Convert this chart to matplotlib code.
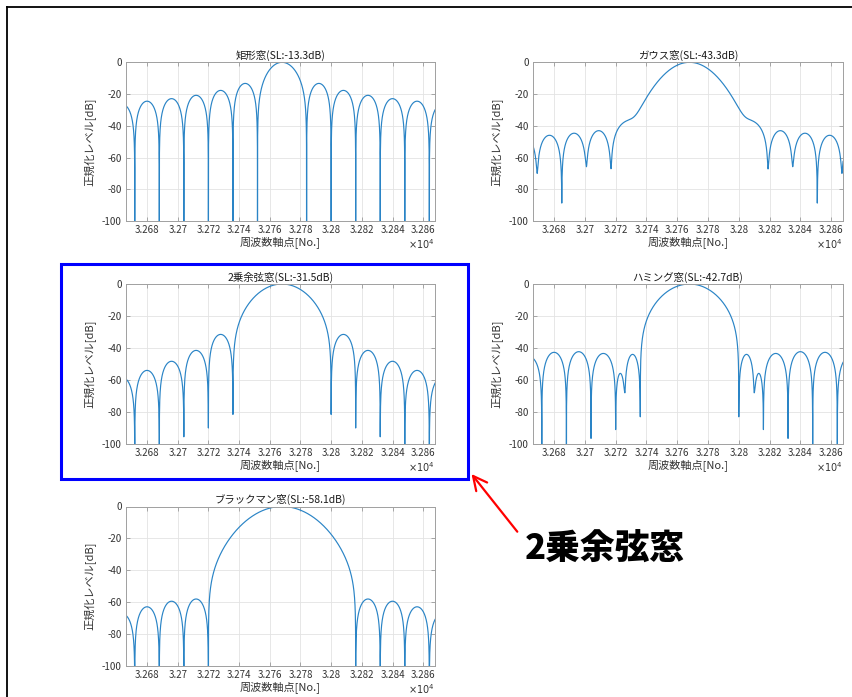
import numpy as np
import matplotlib
matplotlib.use("Agg")
import matplotlib.pyplot as plt
from matplotlib.patches import Rectangle, FancyArrowPatch
from matplotlib.lines import Line2D

plt.rcParams['font.family'] = ['Noto Sans CJK JP', 'DejaVu Sans']
plt.rcParams['axes.unicode_minus'] = False

# ---------------------------------------------------------------- data
CENTER_BIN = 32768
X_TICKS = [32680, 32700, 32720, 32740, 32760, 32780, 32800, 32820, 32840, 32860]
Y_TICKS = [0, -20, -40, -60, -80, -100]
X_LABEL = '周波数軸点[No.]'
Y_LABEL = '正規化レベル[dB]'

# Lobe boundaries (bins), lobe peak levels (dB) and level reached at each boundary (dB)
RECT_EDGES = [32656, 32672, 32688, 32704, 32720, 32736, 32752, 32784, 32800, 32816, 32832, 32848, 32864, 32880]
RECT_PEAKS = [-26.5, -24.5, -22.9, -20.8, -17.7, -13.3, 0, -13.3, -17.7, -20.8, -22.9, -24.5, -26.5]
RECT_FLOORS = [-130] * 14
RECT_MAIN_HW20 = 14.2

GAUSS_EDGES = [32653, 32669, 32685, 32701, 32717, 32819, 32835, 32851, 32867, 32883]
GAUSS_PEAKS = [-47.0, -46.0, -44.7, -43.1, 0, -43.1, -44.7, -46.0, -47.0]
GAUSS_FLOORS = [-60, -70, -88.7, -65.8, -67.2, -67.2, -65.8, -88.7, -70, -60]
GAUSS_MAIN_HW20 = 26.5
GAUSS_SHOULDER_STARTS = [32717, 32795]
GAUSS_SHOULDER_ENDS = [32741, 32819]
GAUSS_SHOULDER_PEAKS = [-37.0, -37.0]
GAUSS_SHOULDER_START_FLOORS = [-68, -130]
GAUSS_SHOULDER_END_FLOORS = [-130, -68]

HANN_EDGES = [32656, 32672, 32688, 32704, 32720, 32736, 32800, 32816, 32832, 32848, 32864, 32880]
HANN_PEAKS = [-58.5, -54.0, -48.3, -41.5, -31.5, 0, -31.5, -41.5, -48.3, -54.0, -58.5]
HANN_FLOORS = [-130, -130, -130, -95.5, -90, -81.5, -81.5, -90, -95.5, -130, -130, -130]
HANN_MAIN_HW20 = 26.3

HAMMING_EDGES = [32656, 32672, 32688, 32704, 32720, 32726, 32736, 32800, 32810, 32816, 32832, 32848, 32864, 32880]
HAMMING_PEAKS = [-45.5, -42.7, -42.3, -43.4, -56.0, -44.0, 0, -44.0, -56.0, -43.4, -42.3, -42.7, -45.5]
HAMMING_FLOORS = [-130, -130, -130, -96.5, -91, -68, -83, -83, -68, -91, -96.5, -130, -130, -130]
HAMMING_MAIN_HW20 = 26.8

BLACKMAN_EDGES = [32656, 32672, 32688, 32704, 32720, 32816, 32832, 32848, 32864, 32880]
BLACKMAN_PEAKS = [-67.5, -63.0, -59.5, -58.1, 0, -58.1, -59.5, -63.0, -67.5]
BLACKMAN_FLOORS = [-130] * 10
BLACKMAN_MAIN_HW20 = 34.0

TITLES = ['矩形窓(SL:-13.3dB)', 'ガウス窓(SL:-43.3dB)', '2乗余弦窓(SL:-31.5dB)',
          'ハミング窓(SL:-42.7dB)', 'ブラックマン窓(SL:-58.1dB)']
CALLOUT = '2乗余弦窓'

LINE_COLOR = '#2a84c6'
W, H = 853, 697


def sidelobe(xs, a, b, p, fa, fb):
    t = (xs - a) / (b - a)
    ea = 10 ** ((fa - p) / 10)
    eb = 10 ** ((fb - p) / 10)
    e = ea * (1 - t) + eb * t
    return p + 10 * np.log10(np.sin(np.pi * t) ** 2 + e)


def spectrum_db(x, edges, peaks, floors, hw20, main_nulls=True, extra=()):
    power = np.zeros_like(x)
    for i, p in enumerate(peaks):
        a, b = edges[i], edges[i + 1]
        fa, fb = floors[i], floors[i + 1]
        m = (x >= a) & (x < b)
        xs = x[m]
        if p == 0:
            mid = 0.5 * (a + b)
            if main_nulls:
                h = 0.5 * (b - a)
                u = (xs - mid) / h
                u20 = hw20 / h
                c = (20 + 20 * np.log10(np.cos(np.pi * u20 / 2))) / u20 ** 2
                ea = 10 ** ((fa - p + c) / 10)
                eb = 10 ** ((fb - p + c) / 10)
                w = (u + 1) / 2
                e = ea * (1 - w) + eb * w
                y = p + 10 * np.log10(np.cos(np.pi * u / 2) ** 2 + e) - c * u ** 2
            else:
                y = p - 20 * ((xs - mid) / hw20) ** 2
        else:
            y = sidelobe(xs, a, b, p, fa, fb)
        power[m] += 10 ** (y / 10)
    for a, b, p, fa, fb in extra:
        m = (x >= a) & (x < b)
        power[m] += 10 ** (sidelobe(x[m], a, b, p, fa, fb) / 10)
    return 10 * np.log10(power + 1e-30)


x = 32600 + np.arange(0, 300 * 20 + 1) / 20.0

curves = [
    spectrum_db(x, RECT_EDGES, RECT_PEAKS, RECT_FLOORS, RECT_MAIN_HW20),
    spectrum_db(x, GAUSS_EDGES, GAUSS_PEAKS, GAUSS_FLOORS, GAUSS_MAIN_HW20, main_nulls=False,
                extra=list(zip(GAUSS_SHOULDER_STARTS, GAUSS_SHOULDER_ENDS, GAUSS_SHOULDER_PEAKS,
                               GAUSS_SHOULDER_START_FLOORS, GAUSS_SHOULDER_END_FLOORS))),
    spectrum_db(x, HANN_EDGES, HANN_PEAKS, HANN_FLOORS, HANN_MAIN_HW20),
    spectrum_db(x, HAMMING_EDGES, HAMMING_PEAKS, HAMMING_FLOORS, HAMMING_MAIN_HW20),
    spectrum_db(x, BLACKMAN_EDGES, BLACKMAN_PEAKS, BLACKMAN_FLOORS, BLACKMAN_MAIN_HW20),
]

# ---------------------------------------------------------------- figure
fig = plt.figure(figsize=(W / 100, H / 100), dpi=100)
fig.patch.set_facecolor('white')


def fig_rect(left, top, right, bottom):
    return [left / W, 1 - bottom / H, (right - left) / W, (bottom - top) / H]


boxes = [
    (126, 62.3, 435, 221),
    (533, 62.3, 843, 221),
    (126, 284, 435, 444),
    (533, 284, 843, 444),
    (126, 506.5, 435, 665.7),
]

for (l, t, r, b), y, title in zip(boxes, curves, TITLES):
    ax = fig.add_axes(fig_rect(l, t, r, b))
    ax.plot(x, y, color=LINE_COLOR, lw=0.85)
    ax.set_xlim(32666.3, 32867.7)
    ax.set_ylim(-100, 0)
    ax.set_xticks(X_TICKS)
    ax.set_xticklabels([f'{v / 1e4:g}' for v in X_TICKS])
    ax.set_yticks(Y_TICKS)
    ax.grid(True, color='#e3e3e3', lw=0.6)
    ax.set_axisbelow(True)
    ax.tick_params(direction='in', length=3, width=0.6, color='#9a9a9a',
                   labelcolor='#333333', labelsize=7, top=True, right=True, pad=3)
    for s in ax.spines.values():
        s.set_color('#a0a0a0')
        s.set_linewidth(0.7)
    ax.set_title(title, fontsize=7.5, pad=2.5, color='#1a1a1a')
    ax.set_xlabel(X_LABEL, fontsize=8, color='#333333', labelpad=1)
    ax.set_ylabel(Y_LABEL, fontsize=8, color='#333333', labelpad=4)
    ax.text(1.0, -0.145, r'$\times10^{4}$', transform=ax.transAxes,
            ha='right', va='center', fontsize=7, color='#333333')

# page frame (top and left edges)
fig.add_artist(Line2D([7 / W, 1], [1 - 7 / H, 1 - 7 / H], color='black', lw=1.3,
                      transform=fig.transFigure))
fig.add_artist(Line2D([7 / W, 7 / W], [0, 1 - 7 / H], color='black', lw=1.3,
                      transform=fig.transFigure))

# highlight box around the raised-cosine panel
fig.add_artist(Rectangle((61.2 / W, 1 - 479 / H), (468 - 61.2) / W, (479 - 263.7) / H,
                         transform=fig.transFigure, fill=False, ec='#0000ff', lw=2.2))

# callout arrow and label
fig.add_artist(FancyArrowPatch((517.3 / W, 1 - 531.7 / H), (471.5 / W, 1 - 474 / H),
                               transform=fig.transFigure,
                               arrowstyle='->,head_length=0.5,head_width=0.25',
                               mutation_scale=20, color='#ff0000', lw=1.6,
                               shrinkA=0, shrinkB=0))
fig.text(605 / W, 1 - 549 / H, CALLOUT, fontsize=25, fontweight='black',
         ha='center', va='center', color='black')

fig.savefig('out.png', dpi=100)
